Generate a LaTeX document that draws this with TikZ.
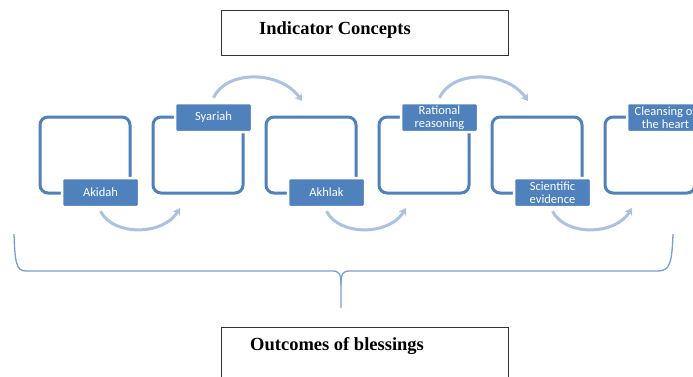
\documentclass[tikz,border=0pt]{standalone}
\usepackage{fontspec}
\setmainfont{Liberation Serif}
\newfontfamily\lblfont{Carlito}
\usetikzlibrary{arrows.meta}
\definecolor{frameblue}{RGB}{79,129,189}
\definecolor{arcblue}{RGB}{172,194,226}
\definecolor{braceblue}{RGB}{120,158,210}
\tikzset{
  frame/.style={draw=frameblue, line width=3pt, rounded corners=8pt, minimum width=90pt, minimum height=76pt, inner sep=0pt},
  lbl/.style={fill=frameblue, draw=white, line width=2.5pt, rounded corners=1.5pt, minimum width=77pt, minimum height=29pt, inner sep=0pt, text=white, align=center, font=\lblfont\fontsize{12.5}{12.5}\selectfont},
  flow/.style={draw=arcblue, line width=3pt, -{Stealth[length=7pt,width=9pt]}},
  title/.style={draw=black!80, line width=0.8pt, minimum width=287pt, inner sep=0pt},
  titletext/.style={font=\fontsize{18.5}{21}\selectfont\bfseries, inner sep=0pt, anchor=base west},
  brace/.style={draw=braceblue, line width=1.3pt}
}
\begin{document}
\begin{tikzpicture}[x=1pt,y=-1pt]
\useasboundingbox (0,0) rectangle (693,376);
\clip (0,0) rectangle (693,376);
\fill[white] (0,0) rectangle (693,376);
% title boxes
\node[title, minimum height=45pt] (topbox) at (364.5,32.5) {};
\node[titletext] (toptext) at (259,34) {Indicator Concepts};
\node[title, minimum height=80pt] (botbox) at (364.5,367) {};
\node[titletext] (bottext) at (250,350) {Outcomes of blessings};
% frames
\node[frame] (f1) at (85,155) {};
\node[frame] (f2) at (198,155) {};
\node[frame] (f3) at (311,155) {};
\node[frame] (f4) at (424,155) {};
\node[frame] (f5) at (537,155) {};
\node[frame] (f6) at (650,155) {};
% labels
\node[lbl] (l1) at (100.5,192.5) {Akidah};
\node[lbl] (l2) at (213.5,117.5) {Syariah};
\node[lbl] (l3) at (326.5,192.5) {Akhlak};
\node[lbl] (l4) at (439.5,117.5) {Rational\\reasoning};
\node[lbl] (l5) at (552.5,192.5) {Scientific\\evidence};
\node[lbl] (l6) at (665.5,117.5) {Cleansing of\\the heart};
% arrow targets
\coordinate (t1) at (180,208);
\coordinate (t2) at (302,101);
\coordinate (t3) at (406,208);
\coordinate (t4) at (528,101);
\coordinate (t5) at (632,208);
% flow arcs
\draw[flow] ([yshift=-3pt]l1.south) .. controls (113,236) and (163,236) .. (t1);
\draw[flow] ([yshift=4pt]l2.north) .. controls (226,70) and (280,70) .. (t2);
\draw[flow] ([yshift=-3pt]l3.south) .. controls (339,236) and (389,236) .. (t3);
\draw[flow] ([yshift=4pt]l4.north) .. controls (452,70) and (506,70) .. (t4);
\draw[flow] ([yshift=-3pt]l5.south) .. controls (565,236) and (615,236) .. (t5);
% brace
\coordinate (bl) at (14,234);
\coordinate (br) at (673,234);
\coordinate (btip) at (341,308);
\draw[brace] (bl) .. controls (15,262) and (16,271) .. (26,271) -- (332,271)
  .. controls (339,271) and (341,273) .. (341,285) -- (btip);
\draw[brace] (341,285) .. controls (341,273) and (343,271) .. (350,271) -- (658,271)
  .. controls (670,271) and (672,262) .. (br);
\end{tikzpicture}
\end{document}
